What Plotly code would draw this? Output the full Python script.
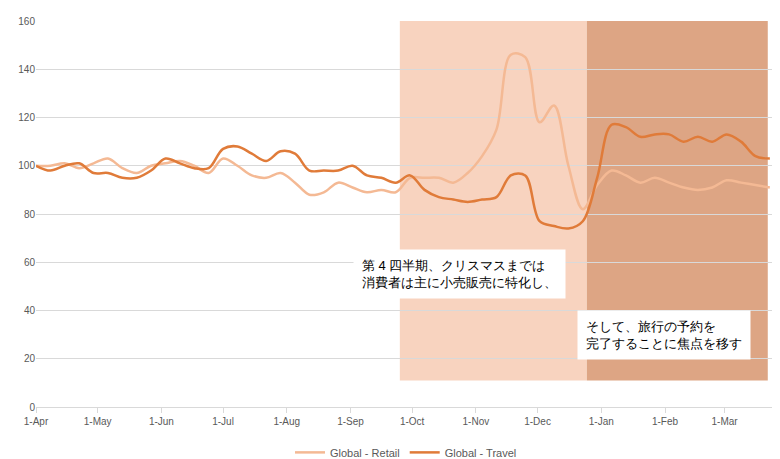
import plotly.graph_objects as go
import pandas as pd

dates = pd.date_range("2019-04-01", periods=52, freq="7D")
retail = [100,100,101,99,101,103,99,97,100,101,102,100,97,103,100,96,95,97,93,88,89,93,91,89,90,89,
          95,95,95,93,97,104,115,146,145,118,125,100,82,92,98,96,93,95,93,91,90,91,94,93,92,91]
travel = [100,98,100,101,97,97,95,95,98,103,101,99,99,107,108,105,102,106,105,98,98,98,100,96,95,93,
          96,90,87,86,85,86,87,96,96,77,75,74,77,95,117,116,112,113,113,110,112,110,113,110,104,103]
tick_vals = pd.date_range("2019-04-01", periods=12, freq="MS")
tick_text = [d.strftime("1-%b") for d in tick_vals]

fig = go.Figure()
fig.add_shape(type="rect", x0="2019-09-25", x1="2019-12-25", y0=11, y1=160,
              fillcolor="#F8D3BF", line_width=0, layer="below")
fig.add_shape(type="rect", x0="2019-12-25", x1="2020-03-22", y0=11, y1=160,
              fillcolor="#DDA584", line_width=0, layer="below")
fig.add_trace(go.Scatter(x=dates, y=retail, name="Global - Retail", mode="lines",
                         line=dict(color="#F4B994", width=2.5, shape="spline")))
fig.add_trace(go.Scatter(x=dates, y=travel, name="Global - Travel", mode="lines",
                         line=dict(color="#E07B39", width=2.5, shape="spline")))
fig.add_annotation(x="2019-09-02", y=55, xanchor="left", yanchor="middle", showarrow=False,
                   text="第 4 四半期、クリスマスまでは<br>消費者は主に小売販売に特化し、",
                   align="left", bgcolor="white", borderpad=8, font=dict(size=13, color="black"))
fig.add_annotation(x="2019-12-20", y=30, xanchor="left", yanchor="middle", showarrow=False,
                   text="そして、旅行の予約を<br>完了することに焦点を移す",
                   align="left", bgcolor="white", borderpad=8, font=dict(size=13, color="black"))
fig.update_layout(
    width=780, height=459, plot_bgcolor="white", paper_bgcolor="white",
    margin=dict(l=28, r=12, t=13, b=60, autoexpand=False),
    font=dict(family="Liberation Sans", size=10, color="#595959"),
    legend=dict(orientation="h", x=0.5, xanchor="center", y=-0.08, yanchor="top",
                font=dict(size=11)),
    xaxis=dict(tickvals=tick_vals, ticktext=tick_text, range=["2019-04-01", "2020-03-26"],
               showgrid=False, showline=True, linecolor="#D9D9D9", ticks="outside",
               tickcolor="#D9D9D9", automargin=False),
    yaxis=dict(range=[0, 160], dtick=20, gridcolor="#D9D9D9", zeroline=False, automargin=False),
)
fig.write_html("out.html")
